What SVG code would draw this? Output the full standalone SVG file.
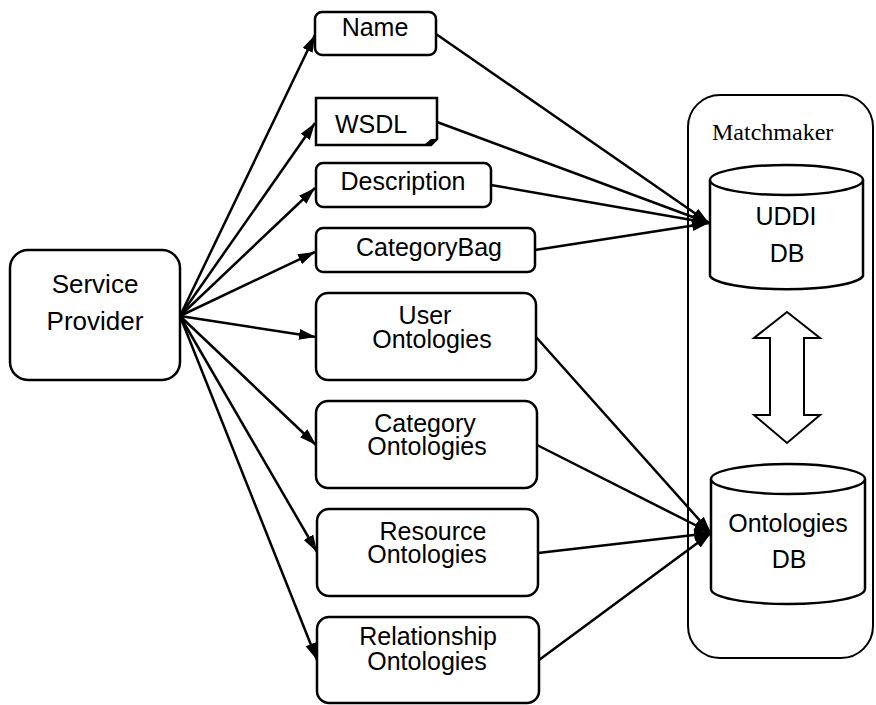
<svg xmlns="http://www.w3.org/2000/svg" width="876" height="705" viewBox="0 0 876 705">
<defs>
<marker id="ah" markerUnits="userSpaceOnUse" markerWidth="18" markerHeight="12" refX="17" refY="6" orient="auto">
<path d="M0,0.5 L17,6 L0,11.5 z" fill="#000"/>
</marker>
<style>
.box{fill:#fff;stroke:#000;stroke-width:2.5}
.t{font-family:"Liberation Sans",Arial,sans-serif;font-size:25px;fill:#000;text-anchor:middle}
.s{font-family:"Liberation Serif","Times New Roman",serif;font-size:24px;fill:#000}
.c{stroke:#000;stroke-width:2.5;fill:none;marker-end:url(#ah)}
</style>
</defs>
<rect width="876" height="705" fill="#fff"/>
<g id="matchmaker">
<rect x="688" y="95" width="185" height="563" rx="32" fill="none" stroke="#000" stroke-width="2"/>
<text class="s" x="712" y="140">Matchmaker</text>
</g>
<g id="connectors">
<line class="c" x1="180" y1="316" x2="315" y2="35"/>
<line class="c" x1="180" y1="316" x2="315" y2="123"/>
<line class="c" x1="180" y1="316" x2="315" y2="188"/>
<line class="c" x1="180" y1="316" x2="315" y2="252"/>
<line class="c" x1="180" y1="316" x2="316" y2="337"/>
<line class="c" x1="180" y1="316" x2="316" y2="445"/>
<line class="c" x1="180" y1="316" x2="317" y2="552"/>
<line class="c" x1="180" y1="316" x2="317" y2="660"/>
<line class="c" x1="436" y1="34" x2="709" y2="223"/>
<line class="c" x1="437" y1="122" x2="709" y2="223"/>
<line class="c" x1="491" y1="185" x2="709" y2="223"/>
<line class="c" x1="535" y1="250" x2="709" y2="223"/>
<line class="c" x1="536" y1="337" x2="711" y2="533"/>
<line class="c" x1="537" y1="445" x2="711" y2="533"/>
<line class="c" x1="538" y1="553" x2="711" y2="533"/>
<line class="c" x1="539" y1="660" x2="711" y2="533"/>
<path d="M787,312 L820,338 L804,338 L804,415 L820,415 L787,443 L754,415 L770,415 L770,338 L754,338 Z" fill="#fff" stroke="#000" stroke-width="2"/>
</g>
<g id="service-provider">
<rect class="box" x="10" y="250" width="170" height="130" rx="18"/>
<text class="t" x="95" y="293" style="font-size:26px">Service</text>
<text class="t" x="95" y="330" style="font-size:26px">Provider</text>
</g>
<g id="name">
<rect class="box" x="315" y="12" width="121" height="43" rx="7"/>
<text class="t" x="375" y="36">Name</text>
</g>
<g id="wsdl">
<path class="box" d="M316,98 L437,98 L437,139 L431,145 L316,145 Z"/>
<path d="M424,145 L431,139 L437,139 L431,145 Z" fill="#000"/>
<text class="t" x="371" y="133">WSDL</text>
</g>
<g id="description">
<rect class="box" x="316" y="163" width="175" height="44" rx="7"/>
<text class="t" x="403" y="190">Description</text>
</g>
<g id="categorybag">
<rect class="box" x="316" y="228" width="219" height="44" rx="7"/>
<text class="t" x="429" y="256">CategoryBag</text>
</g>
<g id="user-ontologies">
<rect class="box" x="316" y="293" width="220" height="87" rx="12"/>
<text class="t" x="425" y="324">User</text>
<text class="t" x="432" y="348">Ontologies</text>
</g>
<g id="category-ontologies">
<rect class="box" x="316" y="401" width="221" height="87" rx="12"/>
<text class="t" x="425" y="432">Category</text>
<text class="t" x="427" y="455">Ontologies</text>
</g>
<g id="resource-ontologies">
<rect class="box" x="317" y="509" width="221" height="87" rx="12"/>
<text class="t" x="433" y="540">Resource</text>
<text class="t" x="427" y="563">Ontologies</text>
</g>
<g id="relationship-ontologies">
<rect class="box" x="317" y="617" width="222" height="86" rx="12"/>
<text class="t" x="428" y="645">Relationship</text>
<text class="t" x="427" y="670">Ontologies</text>
</g>
<g id="uddi-db">
<path d="M710,180 L710,276 A77,15 0 0 0 863,276 L863,180" fill="#fff" stroke="#000" stroke-width="2.5"/>
<ellipse cx="786.5" cy="180" rx="76.5" ry="15" fill="#fff" stroke="#000" stroke-width="2.5"/>
<text class="t" x="786" y="225">UDDI</text>
<text class="t" x="787" y="262">DB</text>
</g>
<g id="ontologies-db">
<path d="M711,479 L711,589 A77,15 0 0 0 865,589 L865,479" fill="#fff" stroke="#000" stroke-width="2.5"/>
<ellipse cx="788" cy="479" rx="77" ry="15" fill="#fff" stroke="#000" stroke-width="2.5"/>
<text class="t" x="788" y="532">Ontologies</text>
<text class="t" x="789" y="568">DB</text>
</g>
</svg>
